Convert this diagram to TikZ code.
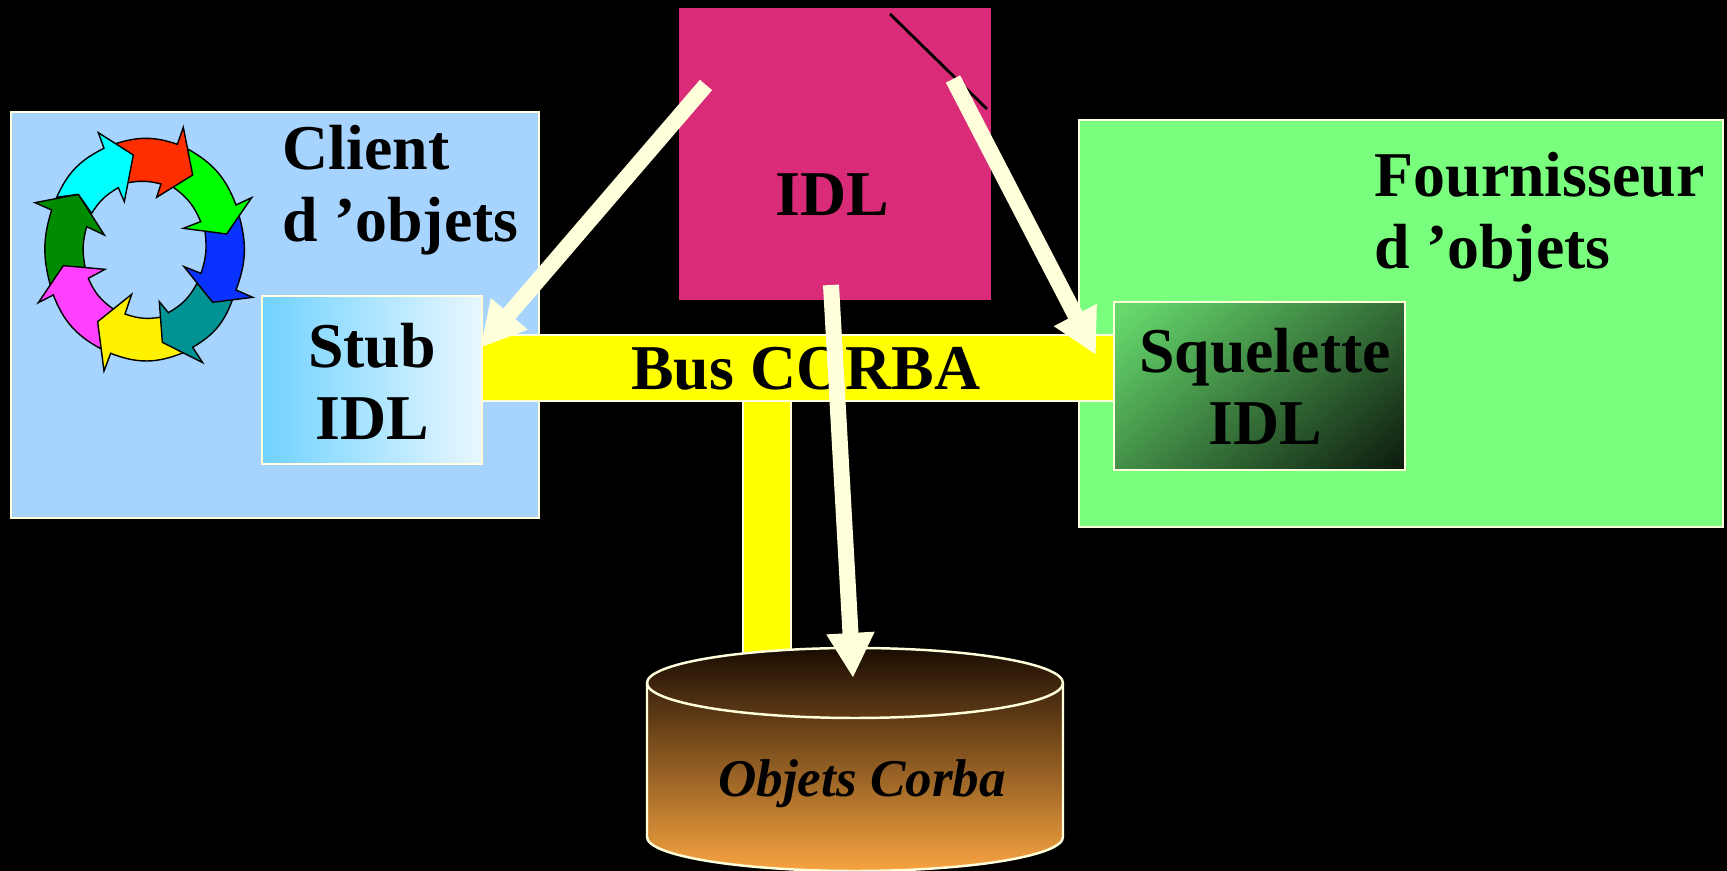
\documentclass[tikz,border=0pt]{standalone}
\usepackage{fontspec}
\setmainfont{Liberation Serif}
\usetikzlibrary{arrows.meta}
\definecolor{creamline}{HTML}{FFFFDC}
\definecolor{clientblue}{HTML}{A6D4FF}
\definecolor{stubblue}{HTML}{70D2FF}
\definecolor{stubpale}{HTML}{E8F7FF}
\definecolor{fournigreen}{HTML}{79FF7D}
\definecolor{squelgreen}{HTML}{66D86C}
\definecolor{idlpink}{HTML}{D92B78}
\definecolor{busyellow}{HTML}{FFFF00}
\definecolor{cyltop}{HTML}{1A0C02}
\definecolor{cylbottom}{HTML}{F8A440}
\definecolor{ringred}{HTML}{FF2E00}
\definecolor{ringlime}{HTML}{00FF00}
\definecolor{ringblue}{HTML}{0A32FF}
\definecolor{ringteal}{HTML}{009393}
\definecolor{ringpink}{HTML}{FF40FF}
\definecolor{ringgreen}{HTML}{008C00}
\definecolor{ringcyan}{HTML}{00FFFF}
\pgfdeclarehorizontalshading{squelshade}{100bp}{color(0bp)=(squelgreen); color(18bp)=(squelgreen); color(94bp)=(black); color(100bp)=(black)}
\tikzset{
  boxnode/.style={draw=creamline,line width=.7pt,rectangle,inner sep=0pt,outer sep=0pt},
  lbl/.style={text=black,font=\fontsize{18.15}{20.5}\selectfont\bfseries,inner sep=0pt},
  idlarrow/.style={draw=creamline,line width=.16cm,-{Triangle[width=.45cm,length=.45cm]}},
  ringpiece/.style={draw=black,line width=.4pt}
}
\begin{document}
\begin{tikzpicture}[x=.01cm,y=-.01cm]
\useasboundingbox (0,0) rectangle (1727,871);
\fill[black] (0,0) rectangle (1727,871);
% client and server
\node[boxnode,fill=clientblue,minimum width=5.28cm,minimum height=4.06cm] (client) at (275,315) {};
\node[boxnode,fill=fournigreen,minimum width=6.44cm,minimum height=4.07cm] (fourni) at (1401,323.5) {};
\node[rectangle,fill=idlpink,inner sep=0pt,minimum width=3.12cm,minimum height=2.92cm] (idl) at (835,154) {};
% ring of arrows
\scope[shift={(20,110)},scale=1/3]
\filldraw[ringpiece,fill=ringgreen] (90,522) to[bend left=16] (95,300) -- (45,278) -- (175,253) -- (253,375) -- (200,350) to[bend right=13] (195,470) -- cycle;
\filldraw[ringpiece,fill=ringpink] (240,715) to[bend left=20] (100,555) -- (55,578) -- (130,467) -- (255,478) -- (205,505) to[bend right=16] (280,597) -- cycle;
\filldraw[ringpiece,fill=yellow] (490,728) to[bend left=22] (272,730) -- (252,783) -- (233,635) -- (335,553) -- (315,612) to[bend right=14] (420,622) -- cycle;
\filldraw[ringpiece,fill=ringteal] (637,570) to[bend left=20] (518,712) -- (548,758) -- (427,697) -- (418,575) -- (445,608) to[bend right=16] (530,522) -- cycle;
\filldraw[ringpiece,fill=ringblue] (658,320) to[bend left=18] (648,540) -- (698,562) -- (578,577) -- (492,470) -- (543,490) to[bend right=13] (555,365) -- cycle;
\filldraw[ringpiece,fill=ringlime] (505,118) to[bend left=20] (648,285) -- (695,263) -- (620,372) -- (490,355) -- (542,335) to[bend right=16] (460,232) -- cycle;
\filldraw[ringpiece,fill=ringred] (290,100) to[bend left=18] (472,103) -- (490,52) -- (518,195) -- (410,262) -- (423,222) to[bend right=12] (325,218) -- cycle;
\filldraw[ringpiece,fill=ringcyan] (110,262) to[bend left=20] (252,115) -- (235,68) -- (340,135) -- (313,275) -- (295,233) to[bend right=14] (215,310) -- (175,253) -- cycle;
\endscope
% bus
\node[boxnode,fill=busyellow,minimum width=.48cm,minimum height=2.6cm] (busleg) at (767,531) {};
\node[boxnode,fill=busyellow,minimum width=6.33cm,minimum height=.66cm] (bus) at (797.5,368) {};
\node[boxnode,left color=stubblue,right color=stubpale,minimum width=2.2cm,minimum height=1.68cm] (stub) at (372,380) {};
\node[boxnode,shading=squelshade,shading angle=-50,minimum width=2.91cm,minimum height=1.68cm] (squel) at (1259.5,386) {};
% object store
\shadedraw[draw=creamline,line width=.7pt,top color=cyltop,bottom color=cylbottom] (647,683)
  arc[start angle=180,end angle=360,x radius=208,y radius=35] -- (1063,837)
  arc[start angle=0,end angle=180,x radius=208,y radius=34] -- cycle;
\draw[creamline,line width=.7pt] (647,683) arc[start angle=180,end angle=0,x radius=208,y radius=35];
% labels
\node[lbl,align=left,anchor=west] (clienttext) at (282,190) {Client\\d ’objets};
\node[lbl,align=left,anchor=west] (fournitext) at (1374,217) {Fournisseur\\d ’objets};
\node[lbl,anchor=base] (idltext) at (832,216) {IDL};
\node[lbl,anchor=base] (bustext) at (806,390) {Bus CORBA};
\node[lbl,align=center] (stubtext) at (372,381) {Stub\\IDL};
\node[lbl,align=center] (squeltext) at (1265,386) {Squelette\\IDL};
\node[text=black,font=\fontsize{15.1}{18}\selectfont\bfseries\itshape,inner sep=0pt,anchor=base] (cyltext) at (862,797) {Objets Corba};
% arrows from the IDL box
\coordinate (marka) at (890,14);
\coordinate (markb) at (987,109);
\draw[black,line width=.8pt] (marka) -- (markb);
\coordinate (tailstub) at (706,85);
\coordinate (tipstub) at (480,348);
\coordinate (tailsquel) at (953,79);
\coordinate (tipsquel) at (1096,355);
\coordinate (tailcyl) at (831,285);
\coordinate (tipcyl) at (853,678);
\draw[idlarrow] (tailstub) -- (tipstub);
\draw[idlarrow] (tailsquel) -- (tipsquel);
\draw[idlarrow] (tailcyl) -- (tipcyl);
\end{tikzpicture}
\end{document}
